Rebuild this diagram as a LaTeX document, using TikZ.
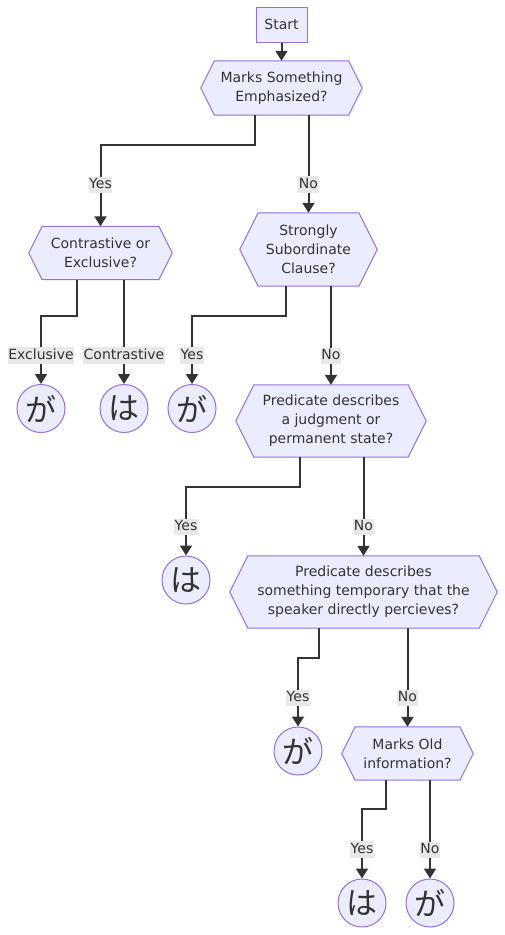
\documentclass[tikz,border=0pt]{standalone}
\usepackage{fontspec}
\setmainfont{DejaVu Sans}
\newfontfamily\jpfont{Noto Sans CJK JP}
\usetikzlibrary{arrows.meta,calc,backgrounds}
\definecolor{boxfill}{HTML}{ECECFF}
\definecolor{boxline}{HTML}{9370DB}
\definecolor{ink}{HTML}{333333}
\definecolor{tagfill}{HTML}{E8E8E8}
\tikzset{
      base/.style = { font=\fontsize{14}{19}\selectfont, text=ink },
     start/.style = { base, draw=boxline, fill=boxfill, line width=1pt,
                      minimum width=51pt, minimum height=35pt },
  question/.style 2 args = { base, align=center, inner sep=0pt,
                      minimum width=#1, minimum height=#2 },
    answer/.style = { circle, draw=boxline, fill=boxfill, line width=1pt,
                      minimum size=48pt, inner sep=0pt, text=ink,
                      font=\jpfont\fontsize{31}{31}\selectfont },
   edgetag/.style = { base, fill=tagfill, inner xsep=0.5pt, inner ysep=1.5pt,
                      text height=10.5pt, text depth=3pt },
     arrow/.style = { line width=2pt, draw=ink, -{Triangle[width=12pt,length=10pt]} },
}
\newcommand*{\partga}{が}
\newcommand*{\partwa}{は}

\begin{document}
\begin{tikzpicture}[x=1pt,y=-1pt]
  \useasboundingbox (0,0) rectangle (505,935);

  \node[start] (start) at (281.5,24.5) {Start};
  \node[question={134pt}{54pt}]   (emph)   at (281.5,88)    {Marks Something\\Emphasized?};
  \node[question={116.5pt}{53pt}] (contr)  at (100.5,253)   {Contrastive or\\Exclusive?};
  \node[question={100.5pt}{73pt}] (subord) at (308.5,249.5) {Strongly\\Subordinate\\Clause?};
  \node[question={154pt}{72pt}]   (judge)  at (331,421)     {Predicate describes\\a judgment or\\permanent state?};
  \node[question={231pt}{72pt}]   (temp)   at (363.5,592)   {Predicate describes\\something temporary that the\\speaker directly percieves?};
  \node[question={104.5pt}{53pt}] (old)    at (407.5,753.5) {Marks Old\\information?};

  \foreach \name/\x/\y/\part in {ga1/41/408.5/\partga, wa1/124/408.5/\partwa,
      ga2/192/408.5/\partga, wa2/186/580/\partwa, ga3/298/751/\partga,
      wa3/362/903/\partwa, ga4/430/903/\partga} {
    \node[answer] (\name) at (\x,\y) {\part};
  }

  % hexagons behind the question texts
  \begin{scope}[on background layer]
    \foreach \q in {emph,contr,subord,judge,temp,old} {
      \filldraw[fill=boxfill, draw=boxline, line width=1pt]
        let \p1=(\q.north), \p2=(\q.south), \n1={(\y1-\y2)/4} in
        (\q.north west) -- (\q.north east) -- ([xshift=\n1]\q.east) --
        (\q.south east) -- (\q.south west) -- ([xshift=-\n1]\q.west) -- cycle;
    }
  \end{scope}

  \draw [arrow] (start) -- (emph);
  \foreach \a/\b/\dx/\dy/\p/\t in {emph/contr/-26.5/30/0.745/Yes,
      contr/ga1/-23.5/36.5/0.79/Exclusive, subord/ga2/-22.5/30/0.79/Yes,
      judge/wa2/-31/30/0.79/Yes, temp/ga3/-44.5/30/0.79/Yes,
      old/wa3/-21.5/29/0.79/Yes} {
    \draw [arrow] ([xshift=\dx pt]\a.south) -- ++(0,\dy) -| (\b.north)
      node[edgetag, pos=\p] {\t};
  }
  \foreach \a/\b/\p/\t in {emph/subord/0.71/No, contr/wa1/0.725/Contrastive,
      subord/judge/0.71/No, judge/temp/0.71/No, temp/old/0.71/No,
      old/ga4/0.71/No} {
    \draw [arrow] (\a.south -| \b) -- node[edgetag, pos=\p] {\t} (\b.north);
  }

\end{tikzpicture}
\end{document}
